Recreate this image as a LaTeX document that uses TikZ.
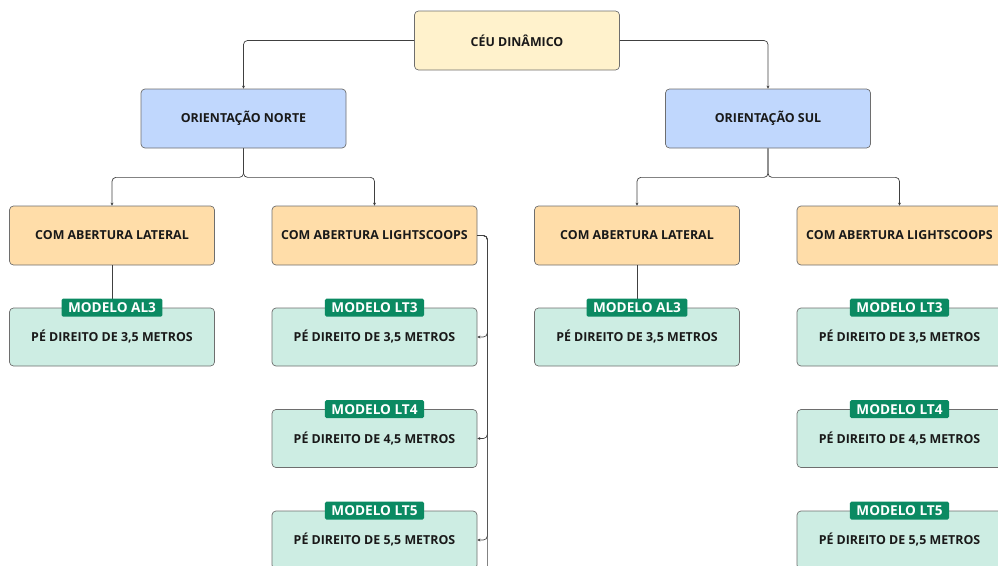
\documentclass[tikz,border=0pt]{standalone}
\usepackage{fontspec}
\setmainfont{Open Sans}
\usetikzlibrary{arrows.meta}
\definecolor{rootfill}{HTML}{FFF2CC}
\definecolor{orifill}{HTML}{C0D7FD}
\definecolor{abfill}{HTML}{FFDDA9}
\definecolor{modfill}{HTML}{CDEDE3}
\definecolor{badgefill}{HTML}{0B8A62}
\definecolor{edgegray}{HTML}{6E6E6E}
\begin{document}
\begin{tikzpicture}[x=1pt,y=-1pt]
       \tikzstyle{box}=[draw=edgegray, line width=0.7pt, rounded corners=4pt, minimum width=205pt, minimum height=59pt, font=\bfseries\fontsize{12.4}{14}\selectfont, text=black!90]
       \tikzstyle{rootnode}=[box, fill=rootfill]
       \tikzstyle{orinode}=[box, fill=orifill]
       \tikzstyle{abnode}=[box, fill=abfill]
       \tikzstyle{modnode}=[box, fill=modfill, minimum height=58pt]
       \tikzstyle{badge}=[fill=badgefill, rounded corners=1.5pt, text=white, inner xsep=6.5pt, inner ysep=2pt, minimum height=18pt, font=\bfseries\fontsize{13.6}{14}\selectfont]
       \tikzstyle{link}=[draw=black!75, line width=0.7pt, rounded corners=4pt]
       \tikzstyle{arrowlink}=[link, -{Stealth[length=3pt,width=3pt]}]
       \clip (0,0) rectangle (998,565);
       % levels
       \node[rootnode] (ceu) at (517,40.5) {CÉU DINÂMICO};
       \node[orinode] (norte) at (243.5,118.5) {ORIENTAÇÃO NORTE};
       \node[orinode] (sul) at (768,118.5) {ORIENTAÇÃO SUL};
       \node[abnode] (nlat) at (112,235.5) {COM ABERTURA LATERAL};
       \node[abnode] (nlight) at (374.5,235.5) {COM ABERTURA LIGHTSCOOPS};
       \node[abnode] (slat) at (637,235.5) {COM ABERTURA LATERAL};
       \node[abnode] (slight) at (899.5,235.5) {COM ABERTURA LIGHTSCOOPS};
       % models
       \node[modnode] (nal3) at (112,337) {PÉ DIREITO DE 3,5 METROS};
       \node[modnode] (nlt3) at (374.5,337) {PÉ DIREITO DE 3,5 METROS};
       \node[modnode] (nlt4) at (374.5,438.5) {PÉ DIREITO DE 4,5 METROS};
       \node[modnode] (nlt5) at (374.5,540) {PÉ DIREITO DE 5,5 METROS};
       \node[modnode] (sal3) at (637,337) {PÉ DIREITO DE 3,5 METROS};
       \node[modnode] (slt3) at (899.5,337) {PÉ DIREITO DE 3,5 METROS};
       \node[modnode] (slt4) at (899.5,438.5) {PÉ DIREITO DE 4,5 METROS};
       \node[modnode] (slt5) at (899.5,540) {PÉ DIREITO DE 5,5 METROS};
       % connectors
       \draw[arrowlink] (ceu.west) -| (norte.north);
       \draw[arrowlink] (ceu.east) -| (sul.north);
       \draw[arrowlink] (norte.south) -- ++(0,29) -| (nlat.north);
       \draw[arrowlink] (norte.south) -- ++(0,29) -| (nlight.north);
       \draw[arrowlink] (sul.south) -- ++(0,29) -| (slat.north);
       \draw[arrowlink] (sul.south) -- ++(0,29) -| (slight.north);
       \draw[link] (nlat.south) -- (nal3.north);
       \draw[link] (slat.south) -- (sal3.north);
       \draw[arrowlink] (nlight.east) -- ++(10,0) |- (nlt3.east);
       \draw[arrowlink] (nlight.east) -- ++(10,0) |- (nlt4.east);
       \draw[arrowlink] (nlight.east) -- ++(10,0) |- (nlt5.east);
       \draw[link] (nlight.east) -- ++(10,0) -- ++(0,340);
       % badges
       \node[badge] (bal3n) at (nal3.north) {MODELO AL3};
       \node[badge] (blt3n) at (nlt3.north) {MODELO LT3};
       \node[badge] (blt4n) at (nlt4.north) {MODELO LT4};
       \node[badge] (blt5n) at (nlt5.north) {MODELO LT5};
       \node[badge] (bal3s) at (sal3.north) {MODELO AL3};
       \node[badge] (blt3s) at (slt3.north) {MODELO LT3};
       \node[badge] (blt4s) at (slt4.north) {MODELO LT4};
       \node[badge] (blt5s) at (slt5.north) {MODELO LT5};
      \end{tikzpicture}
\end{document}
